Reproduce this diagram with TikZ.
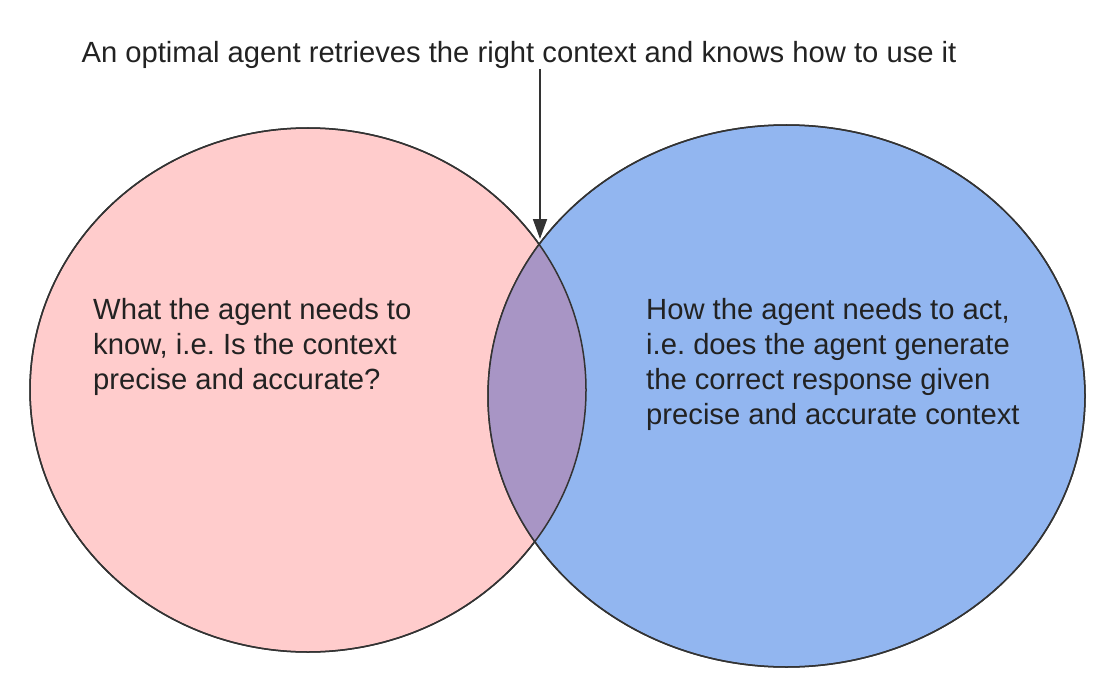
\documentclass[tikz,border=0pt]{standalone}
\usepackage{fontspec}
\setmainfont{Liberation Sans}
\usetikzlibrary{shapes.geometric,arrows.meta}
\frenchspacing

\definecolor{knowpink}{HTML}{FFCCCC}
\definecolor{actblue}{HTML}{92B6F0}
\definecolor{bothpurple}{HTML}{A895C5}
\definecolor{edgegray}{HTML}{333333}
\definecolor{textdark}{HTML}{222222}

\begin{document}
\begin{tikzpicture}[
  x=1pt, y=-1pt,
  set/.style={ellipse, inner sep=0pt, line width=1.5pt, draw=edgegray},
  label/.style={align=left, anchor=west, text=textdark, inner sep=0pt,
                font=\fontsize{29.2}{35}\selectfont},
  arr/.style={-{Triangle[length=20pt, width=14pt]}, line width=1.8pt, draw=edgegray},
]
  \useasboundingbox (0,0) rectangle (1097,690);

  % Sets
  \node[set, fill=knowpink, minimum width=556pt, minimum height=524pt] (know) at (308,390) {};
  \node[set, fill=actblue, minimum width=597pt, minimum height=542pt] (act) at (786.5,396) {};

  % Overlap
  \begin{scope}
    \clip (308,390) ellipse [x radius=278, y radius=262];
    \fill[bothpurple] (786.5,396) ellipse [x radius=298.5, y radius=271];
  \end{scope}
  \draw[line width=1.5pt, edgegray] (308,390) ellipse [x radius=278, y radius=262];
  \draw[line width=1.5pt, edgegray] (786.5,396) ellipse [x radius=298.5, y radius=271];

  % Texts
  \node[label] (knowtext) at (93,347) {What the agent needs to\\know, i.e. Is the context\\precise and accurate?};
  \node[label] (acttext) at (646,364) {How the agent needs to act,\\i.e. does the agent generate\\the correct response given\\precise and accurate context};
  \node[label, anchor=center] (title) at (519,55) {An optimal agent retrieves the right context and knows how to use it};

  % Arrow
  \coordinate (meet) at (540,239);
  \draw[arr] (title.south -| meet) -- (meet);
\end{tikzpicture}
\end{document}
